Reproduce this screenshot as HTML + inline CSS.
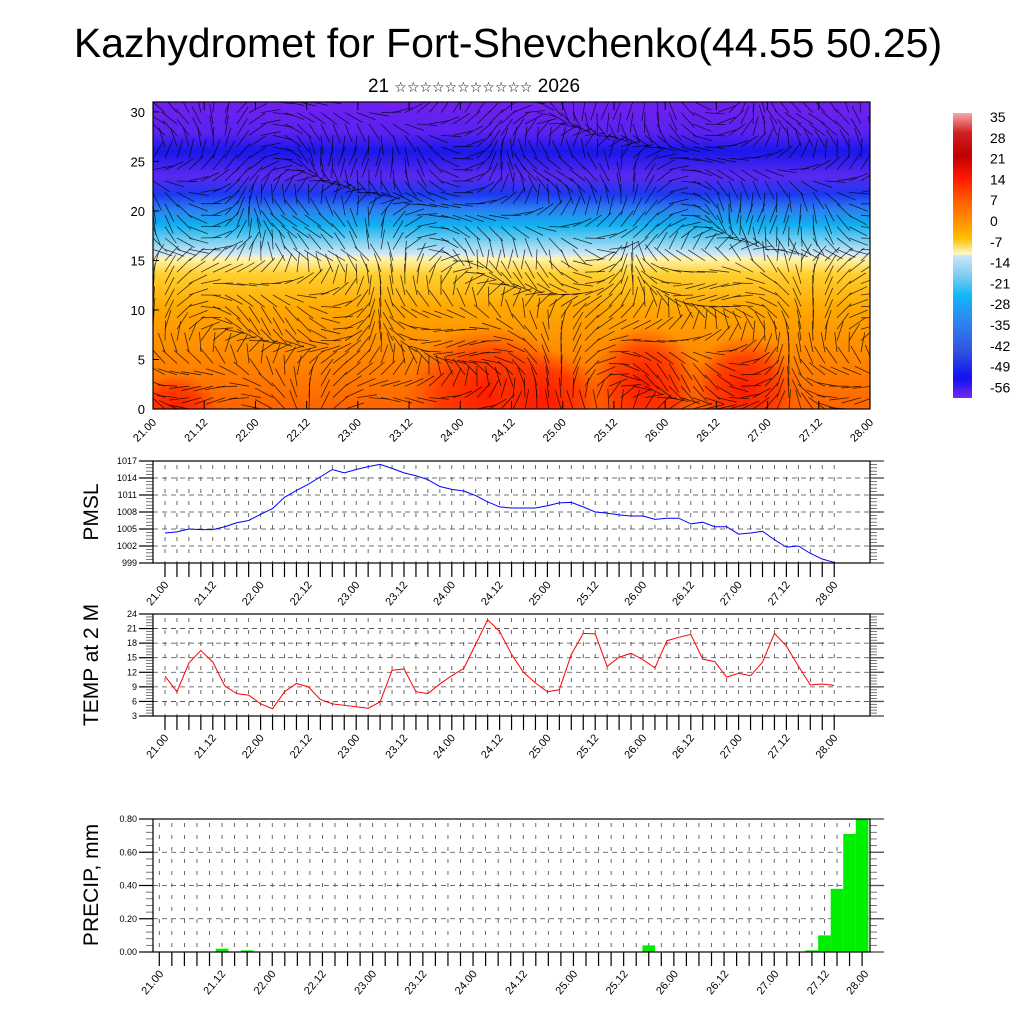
<!DOCTYPE html>
<html><head><meta charset="utf-8"><style>
html,body{margin:0;padding:0;background:#fff}
svg{display:block;font-family:"Liberation Sans","DejaVu Sans",sans-serif}
</style></head><body>
<svg id="chart" width="1024" height="1024" viewBox="0 0 1024 1024" xmlns="http://www.w3.org/2000/svg">
<defs>
<linearGradient id="fieldGrad" x1="0" y1="1" x2="0" y2="0">
<stop offset="0" stop-color="#ff6400"/><stop offset="0.18" stop-color="#ff8a00"/>
<stop offset="0.33" stop-color="#ffa800"/><stop offset="0.44" stop-color="#ffd030"/>
<stop offset="0.49" stop-color="#fff4b0"/><stop offset="0.505" stop-color="#cfe8f6"/>
<stop offset="0.56" stop-color="#60c8f0"/><stop offset="0.6" stop-color="#10b0f0"/>
<stop offset="0.65" stop-color="#2a80f0"/><stop offset="0.7" stop-color="#1c38f0"/>
<stop offset="0.76" stop-color="#5a28f0"/><stop offset="0.84" stop-color="#1818ea"/>
<stop offset="0.9" stop-color="#5a22f0"/><stop offset="1" stop-color="#7020f0"/>
</linearGradient>
<radialGradient id="hot"><stop offset="0" stop-color="#ff1a00" stop-opacity="1"/><stop offset="0.6" stop-color="#ff2a00" stop-opacity="0.7"/><stop offset="1" stop-color="#ff4000" stop-opacity="0"/></radialGradient>
<linearGradient id="cbGrad" x1="0" y1="0" x2="0" y2="1">
<stop offset="0" stop-color="#f6a8a8"/><stop offset="0.07" stop-color="#d02020"/>
<stop offset="0.15" stop-color="#c00000"/><stop offset="0.23" stop-color="#ff1a00"/>
<stop offset="0.31" stop-color="#ff6000"/><stop offset="0.38" stop-color="#ff9000"/>
<stop offset="0.44" stop-color="#ffc000"/><stop offset="0.495" stop-color="#fff8c8"/>
<stop offset="0.5" stop-color="#cce6f6"/><stop offset="0.57" stop-color="#80ccf0"/>
<stop offset="0.64" stop-color="#10b8f8"/><stop offset="0.74" stop-color="#3080f0"/>
<stop offset="0.84" stop-color="#3050e0"/><stop offset="0.93" stop-color="#1010f0"/>
<stop offset="1" stop-color="#7828f0"/>
</linearGradient>
<clipPath id="fieldClip"><rect x="153" y="102" width="717" height="307"/></clipPath>
</defs>
<text x="508" y="57" font-size="41" text-anchor="middle">Kazhydromet for Fort-Shevchenko(44.55 50.25)</text>
<text x="474" y="92" font-size="19" text-anchor="middle">21 <tspan font-size="14">☆☆☆☆☆☆☆☆☆☆☆</tspan> 2026</text>
<g id="topPanel"></g>
<g id="cbar"></g>
<g id="pmsl"></g>
<g id="temp"></g>
<g id="precip"></g>
</svg>
<script>
const NS="http://www.w3.org/2000/svg";
const timeLabels=["21.00","21.12","22.00","22.12","23.00","23.12","24.00","24.12","25.00","25.12","26.00","26.12","27.00","27.12","28.00"];
const pmslValues=[1004.3,1004.5,1005.0,1004.9,1004.9,1005.4,1006.1,1006.5,1007.6,1008.6,1010.6,1011.8,1012.9,1014.2,1015.5,1014.9,1015.5,1016.0,1016.4,1015.7,1014.9,1014.4,1013.7,1012.5,1012.0,1011.7,1010.9,1009.8,1008.9,1008.7,1008.7,1008.7,1009.1,1009.6,1009.7,1008.9,1008.0,1007.8,1007.5,1007.3,1007.3,1006.7,1006.9,1006.9,1005.9,1006.2,1005.4,1005.4,1004.1,1004.3,1004.6,1003.1,1001.8,1002.0,1000.7,999.7,999.1];
const pmslTicks=[999,1002,1005,1008,1011,1014,1017];
const tempValues=[11.2,8.0,13.9,16.5,14.1,9.2,7.6,7.3,5.5,4.5,8.0,9.7,9.0,6.4,5.5,5.2,4.9,4.6,5.9,12.4,12.7,8.0,7.6,9.6,11.3,12.8,17.8,22.8,20.4,15.7,12.0,9.8,8.0,8.4,15.7,20.0,19.9,13.2,15.1,15.9,14.6,12.9,18.5,19.2,19.8,14.7,14.2,11.0,11.8,11.3,14.1,20.0,17.4,13.3,9.4,9.6,9.3];
const tempTicks=[3,6,9,12,15,18,21,24];
const precipValues=[0,0,0,0,0,0.02,0,0.01,0,0,0,0,0,0,0,0,0,0,0,0,0,0,0,0,0,0,0,0,0,0,0,0,0,0,0,0,0,0,0,0.04,0,0,0,0,0,0,0,0,0,0,0,0,0.01,0.10,0.38,0.71,0.80];
const precipTicks=[0,0.2,0.4,0.6,0.8];
const precipTickLabels=["0.00","0.20","0.40","0.60","0.80"];
const levelTicks=[0,5,10,15,20,25,30];
const cbarLabels=["35","28","21","14","7","0","-7","-14","-21","-28","-35","-42","-49","-56"];

function el(tag,attrs,parent,text){const e=document.createElementNS(NS,tag);for(const k in attrs)e.setAttribute(k,attrs[k]);if(text!==undefined)e.textContent=text;parent.appendChild(e);return e;}

/* ---------- top cross-section ---------- */
const topG=document.getElementById('topPanel');
const TX0=153,TX1=870,TY0=102,TY1=409;
const lvY=v=>TY1-(v/31)*(TY1-TY0);
const fg=el('g',{'clip-path':'url(#fieldClip)'},topG);
const fr=el('rect',{x:TX0,y:TY0,width:TX1-TX0,height:TY1-TY0,fill:'url(#fieldGrad)'},fg);


[[490,395,85,70],[545,400,60,50],[645,385,55,60],[745,390,55,55],[175,409,45,35]].forEach(b=>{el('ellipse',{cx:b[0],cy:b[1],rx:b[2],ry:b[3],fill:'url(#hot)'},fg);});
const wg=el('g',{stroke:'#000','stroke-width':0.8,'stroke-opacity':0.75},fg);


for(let i=0;i<=60;i++){for(let j=0;j<=27;j++){
  const x=TX0+i*12,y=TY1-j*11.4;
  const a=Math.sin(i*0.23+j*0.31)*1.4+Math.cos(j*0.5-i*0.11)*0.9+(j>13?0.3:1.2);
  const L=20;
  el('line',{x1:x,y1:y,x2:x+L*Math.cos(a),y2:y-L*Math.sin(a)},wg);
}}
el('rect',{x:TX0,y:TY0,width:TX1-TX0,height:TY1-TY0,fill:'none',stroke:'#000','stroke-width':1.2},topG);
levelTicks.forEach(v=>{
  const y=lvY(v);
  el('line',{x1:TX0,y1:y,x2:TX0+6,y2:y,stroke:'#000'},topG);
  const t=el('text',{x:145,y:y+5,'font-size':13,'text-anchor':'end'},topG,String(v));
  
  
});
timeLabels.forEach((s,i)=>{
  const x=TX0+i*(TX1-TX0)/14;
  el('line',{x1:x,y1:TY1,x2:x,y2:TY1-8,stroke:'#000'},topG);
  el('line',{x1:x,y1:TY0,x2:x,y2:TY0+8,stroke:'#000'},topG);
  const t=el('text',{x:x+4,y:TY1+14,'font-size':11,'text-anchor':'end',transform:`rotate(-45 ${x+4} ${TY1+14})`},topG,s);
  
  
});

/* ---------- colorbar ---------- */
const cb=document.getElementById('cbar');
el('rect',{x:953,y:113,width:19,height:285,fill:'url(#cbGrad)'},cb);
cbarLabels.forEach((s,i)=>{
  const t=el('text',{x:990,y:122+i*20.8,'font-size':14},cb,s);
  
  
});

/* ---------- line/bar panels ---------- */
function panel(gid,cfg){
  const g=document.getElementById(gid);
  const {x0,x1,y0,y1,vmin,vmax,ticks,tickLabels,title,titleY,tfirst,tstep,labelPos,labelFont}=cfg;
  const yS=v=>y1-(v-vmin)/(vmax-vmin)*(y1-y0);
  const xS=k=>tfirst+k*tstep;
  ticks.forEach((v,ti)=>{const y=yS(v);
    if(ti!==0&&ti!==ticks.length-1) el('line',{x1:x0,y1:y,x2:x1,y2:y,stroke:'#444','stroke-width':0.8,'stroke-dasharray':'5,4'},g);
    el('line',{x1:x0-14,y1:y,x2:x0,y2:y,stroke:'#000','stroke-width':1.2},g);
    el('line',{x1:x1,y1:y,x2:x1+14,y2:y,stroke:'#555','stroke-width':1.4},g);
    const t=el('text',{x:x0-16,y:y+3,'font-size':labelFont,'text-anchor':'end'},g,tickLabels[ti]);
    
    
  });
  const step=(ticks[1]-ticks[0])/5;
  for(let m=0;m<(ticks.length-1)*5;m++){ if(m%5===0) continue; const y=yS(vmin+m*step);
    el('line',{x1:x0-7,y1:y,x2:x0,y2:y,stroke:'#555','stroke-width':0.8},g);
    el('line',{x1:x1,y1:y,x2:x1+7,y2:y,stroke:'#555','stroke-width':0.8},g);}
  for(let k=0;k<57;k++){const x=xS(k);
    el('line',{x1:x,y1:y0+4,x2:x,y2:y1,stroke:'#444','stroke-width':0.8,'stroke-dasharray':'4,8'},g);
    el('line',{x1:x,y1:y1,x2:x,y2:y1+14,stroke:'#000','stroke-width':1.2},g);
  }
  labelPos.forEach((x,i)=>{
    const t=el('text',{x:x+4,y:y1+22,'font-size':11,'text-anchor':'end',transform:`rotate(-50 ${x+4} ${y1+22})`},g,timeLabels[i]);
    
    
  });
  const tt=el('text',{x:0,y:0,'font-size':21,'text-anchor':'middle',transform:`translate(98 ${titleY}) rotate(-90)`},g,title);
  
  
  return {g,yS,xS};
}
function frame(g,c){el('rect',{x:c.x0,y:c.y0,width:c.x1-c.x0,height:c.y1-c.y0,fill:'none',stroke:'#000','stroke-width':1.2},g);}

const lineLabelPos=timeLabels.map((s,i)=>165+i*4*11.95);
const pCfg={x0:153,x1:870,y0:461,y1:563,vmin:999,vmax:1017,ticks:pmslTicks,tickLabels:pmslTicks.map(String),title:'PMSL',titleY:512,tfirst:165,tstep:11.95,labelPos:lineLabelPos,labelFont:9};
const P=panel('pmsl',pCfg);
const pl=el('polyline',{points:pmslValues.map((v,k)=>P.xS(k)+','+P.yS(v)).join(' '),fill:'none',stroke:'#0000ff','stroke-width':1},P.g);


frame(P.g,pCfg);

const tCfg={x0:153,x1:870,y0:614,y1:716,vmin:3,vmax:24,ticks:tempTicks,tickLabels:tempTicks.map(String),title:'TEMP at 2 M',titleY:665,tfirst:165,tstep:11.95,labelPos:lineLabelPos,labelFont:9};
const T=panel('temp',tCfg);
const tl=el('polyline',{points:tempValues.map((v,k)=>T.xS(k)+','+T.yS(v)).join(' '),fill:'none',stroke:'#ff0000','stroke-width':1},T.g);


frame(T.g,tCfg);

const prLabelPos=timeLabels.map((s,i)=>i===0?160:(i===14?865:222+(i-1)*50.3));
const rCfg={x0:153,x1:870,y0:819,y1:952,vmin:0,vmax:0.8,ticks:precipTicks,tickLabels:precipTickLabels,title:'PRECIP, mm',titleY:885,tfirst:159.3,tstep:12.55,labelPos:prLabelPos,labelFont:9};
const R=panel('precip',rCfg);
precipValues.forEach((v,k)=>{ if(v<=0) return;
  const x=153+k*12.55, y=R.yS(v);
  const b=el('rect',{x:x,y:y,width:12.6,height:R.yS(0)-y,fill:'#00ee00'},R.g);
  
  
});
frame(R.g,rCfg);
</script>
</body></html>
